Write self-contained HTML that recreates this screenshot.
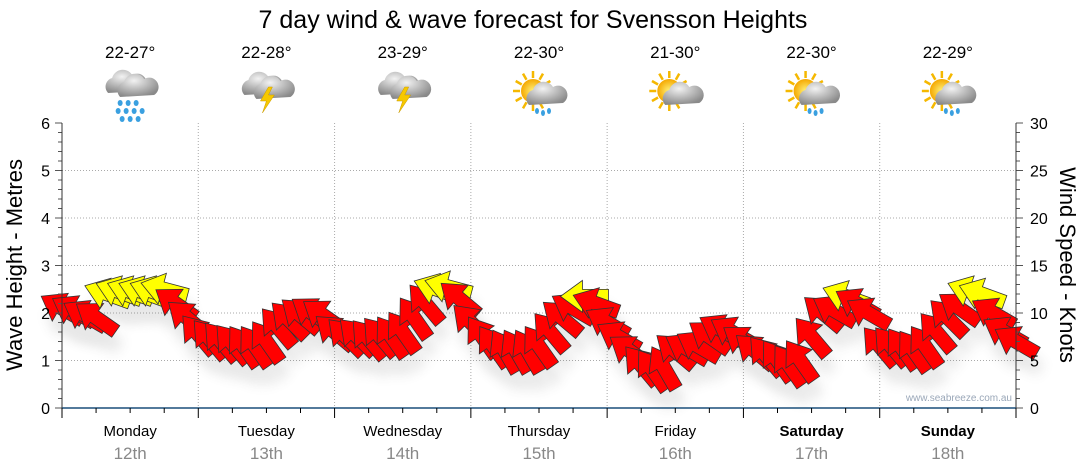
<!DOCTYPE html>
<html><head><meta charset="utf-8">
<style>
body{margin:0;background:#fff;font-family:"Liberation Sans",sans-serif;}
svg{display:block}
</style></head>
<body>
<svg id="chart" width="1080" height="475" xmlns="http://www.w3.org/2000/svg" font-family="Liberation Sans, sans-serif">
<defs>
<radialGradient id="cloud" cx="40%" cy="30%" r="70%"><stop offset="0" stop-color="#f2f2f2"/><stop offset="1" stop-color="#8a8a8a"/></radialGradient>
<radialGradient id="sun" cx="50%" cy="50%" r="50%"><stop offset="0" stop-color="#fff27a"/><stop offset="1" stop-color="#f5a800"/></radialGradient>
<filter id="sh" x="-50%" y="-50%" width="200%" height="200%"><feGaussianBlur stdDeviation="6"/></filter>
</defs>
<text x="533" y="28" text-anchor="middle" font-size="25" fill="#000">7 day wind &amp; wave forecast for Svensson Heights</text>
<g id="grid"></g>
<g id="icons"></g>
<g id="shadows" opacity="0.12"></g>
<g id="arrows"></g>
<g id="axes"></g>
<text transform="translate(22,265) rotate(-90)" text-anchor="middle" font-size="22">Wave Height - Metres</text>
<text transform="translate(1060,265) rotate(90)" text-anchor="middle" font-size="22">Wind Speed - Knots</text>
<text x="1012" y="401" text-anchor="end" font-size="10" fill="#9aa7b8">www.seabreeze.com.au</text>
</svg>
<script>
const days=["Monday","Tuesday","Wednesday","Thursday","Friday","Saturday","Sunday"];
const dates=["12th","13th","14th","15th","16th","17th","18th"];
const temps=["22-27°","22-28°","23-29°","22-30°","21-30°","22-30°","22-29°"];
const icons=["rain","storm","storm","sunshower","suncloud","sunshower","sunshower"];
const leftTicks=[0,1,2,3,4,5,6];
const rightTicks=[0,5,10,15,20,25,30];
const waves=[2.1,2.05,1.95,1.9,2.4,2.45,2.45,2.45,2.45,2.5,2.2,1.9,
1.55,1.45,1.4,1.35,1.3,1.3,1.4,1.7,1.85,1.95,2.0,1.95,
1.6,1.5,1.5,1.45,1.5,1.5,1.6,1.9,2.2,2.5,2.55,2.3,
1.8,1.5,1.3,1.2,1.2,1.2,1.3,1.6,1.9,2.1,2.35,2.2,
1.8,1.5,1.2,0.9,0.8,0.85,1.2,1.25,1.3,1.5,1.65,1.6,
1.4,1.2,1.1,1.0,0.9,1.0,1.5,2.0,2.05,2.35,2.2,2.0,
1.3,1.3,1.25,1.2,1.3,1.6,1.9,2.1,2.45,2.4,2.0,1.6,1.4];
const wind=[15,15,15,16,12,12,12,12,12,12,16,16,
16,15,15,15,15,16,16,16,16,16,16,16,
16,15,15,15,16,16,16,16,16,12,12,16,
16,15,15,15,15,16,16,16,16,16,12,16,
16,16,16,16,16,16,16,16,16,16,16,16,
16,16,16,16,16,16,16,16,16,12,16,16,
16,15,15,15,16,16,16,16,12,12,16,16,16];
const dirs=[-150,-150,-150,-145,-160,-160,-160,-160,-160,-165,-145,-140,
-130,-130,-130,-130,-125,-125,-125,-130,-135,-140,-145,-145,
-140,-135,-135,-130,-130,-125,-125,-125,-130,-160,-165,-140,
-135,-125,-125,-120,-120,-120,-125,-130,-140,-150,180,-160,
-150,-150,-145,-130,-125,-120,-140,-150,-150,-145,-150,-150,
-145,-140,-130,-125,-125,-125,-130,-140,-150,-160,-150,-150,
-130,-130,-125,-125,-125,-130,-135,-145,-160,-160,-150,-150,-150];
const X0=62,X1=1016,Y0=408,Y6=123;
const dayW=(X1-X0)/7, step=dayW/12;
const xs=i=>X0+i*step;
const yw=v=>Y0-(v/6)*(Y0-Y6);
const yk=k=>Y0-(k/30)*(Y0-Y6);
const NS="http://www.w3.org/2000/svg";
function mk(t,a,p){const e=document.createElementNS(NS,t);for(const k in a)e.setAttribute(k,a[k]);p.appendChild(e);return e;}
const grid=document.getElementById('grid'),axes=document.getElementById('axes'),ic=document.getElementById('icons');
leftTicks.forEach(v=>{if(v>0&&v<6){const l=mk('line',{x1:X0,x2:X1,y1:yw(v),y2:yw(v),stroke:'#aaa','stroke-dasharray':'1,2'},grid);}
 const t=mk('text',{x:50,y:yw(v)+6,'text-anchor':'end','font-size':16},axes);t.textContent=v;});
for(let m=0;m<=30;m++){const y=yw(m/5);mk('line',{x1:X0-(m%5?4:7),x2:X0,y1:y,y2:y,stroke:'#555'},axes);}
for(let m=0;m<=30;m++){const y=yk(m);mk('line',{x1:X1,x2:X1+(m%5?4:7),y1:y,y2:y,stroke:'#555'},axes);}
rightTicks.forEach(k=>{const t=mk('text',{x:1030,y:yk(k)+6,'font-size':16},axes);t.textContent=k;});
mk('line',{x1:X0,x2:X0,y1:Y6,y2:Y0,stroke:'#333'},axes);
mk('line',{x1:X1,x2:X1,y1:Y6,y2:Y0,stroke:'#333'},axes);
mk('line',{x1:X0,x2:X1,y1:Y0,y2:Y0,stroke:'#1a4f7a','stroke-width':1.5},axes);
for(let d=0;d<=7;d++){const x=X0+d*dayW;
 if(d>0&&d<7){const l=mk('line',{x1:x,x2:x,y1:Y6,y2:Y0,stroke:'#aaa','stroke-dasharray':'1,2'},grid);}
 mk('line',{x1:x,x2:x,y1:Y0,y2:Y0+10,stroke:'#000'},axes);
 if(d<7){for(let q=1;q<4;q++)mk('line',{x1:x+q*dayW/4,x2:x+q*dayW/4,y1:Y0,y2:Y0+5,stroke:'#000'},axes);
 const cx=x+dayW/2;
 const t=mk('text',{x:cx,y:436,'text-anchor':'middle','font-size':15,'font-weight':d>=5?'bold':'normal'},axes);t.textContent=days[d];
 const t2=mk('text',{x:cx,y:459,'text-anchor':'middle','font-size':17,fill:'#888'},axes);t2.textContent=dates[d];
 const t3=mk('text',{x:cx,y:58,'text-anchor':'middle','font-size':17},ic);t3.textContent=temps[d];
 const g=mk('g',{transform:`translate(${cx},95)`},ic);
 drawIcon(g,icons[d]);}
}
function cloud(g,dx,dy,s){mk('path',{d:`M${dx-16*s},${dy+8*s} a9 9 0 0 1 4,-15 a11 11 0 0 1 20,-3 a9 9 0 0 1 10,16 z`,fill:'url(#cloud)'},g);}
function drawIcon(g,t){
 if(t.startsWith('sun')){for(let a=0;a<360;a+=30){const r=a*Math.PI/180;mk('line',{x1:-6+Math.cos(r)*13,y1:-4+Math.sin(r)*13,x2:-6+Math.cos(r)*20,y2:-4+Math.sin(r)*20,stroke:'#f5b800','stroke-width':2.5},g);}
  mk('circle',{cx:-6,cy:-4,r:12,fill:'url(#sun)'},g);cloud(g,6,2,1);
  if(t==='sunshower'){[[-2,16],[4,18],[10,16]].forEach(p=>mk('ellipse',{cx:p[0],cy:p[1],rx:2,ry:3,fill:'#3aa0e0'},g));}}
 else if(t==='rain'){cloud(g,-6,-10,1);cloud(g,6,-6,1);
  [[-10,8],[-2,8],[6,8],[-12,16],[-4,16],[4,16],[12,16],[-8,24],[0,24],[8,24]].forEach(p=>mk('ellipse',{cx:p[0],cy:p[1],rx:2.5,ry:3,fill:'#3aa0e0'},g));}
 else {cloud(g,-6,-8,1);cloud(g,6,-4,1);mk('path',{d:'M2,-8 L-6,6 L0,6 L-4,18 L8,0 L2,0 L6,-8 z',fill:'#f6c800',stroke:'#c99a00','stroke-width':0.5},g);}
}
const ar=document.getElementById('arrows'),sh=document.getElementById('shadows');
// arrow centred at origin, pointing +x
const shape='M24,0 L2,-16 L2,-7 L-24,-7 L-24,7 L2,7 L2,16 Z';
waves.forEach((v,i)=>{
 const x=xs(i),y=yw(v);
 const s=mk('path',{d:shape,transform:`translate(${x+4},${y+16}) rotate(${dirs[i]})`,fill:'#444',filter:'url(#sh)'},sh);
 
 
});
waves.forEach((v,i)=>{
 const x=xs(i),y=yw(v);
 const col=wind[i]<13?'#ffff00':'#ff0000';
 const p=mk('path',{d:shape,transform:`translate(${x},${y}) rotate(${dirs[i]})`,fill:col,stroke:'#333','stroke-width':0.8},ar);
 
 
});
</script>
</body></html>
